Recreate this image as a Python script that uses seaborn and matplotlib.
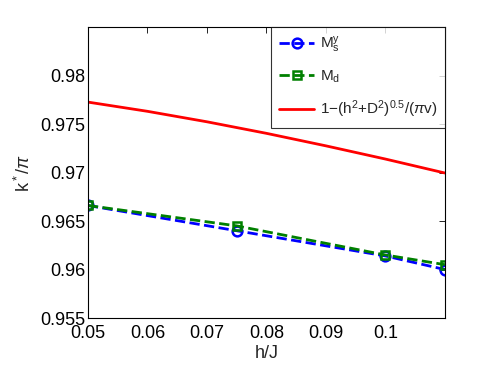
import numpy as np
import pandas as pd
import seaborn as sns
import matplotlib.pyplot as plt

# --- data ---
h_pts = [0.05, 0.075, 0.10, 0.11]
ms_y = [0.9666, 0.9640, 0.9614, 0.9600]
m_d = [0.9666, 0.9645, 0.9615, 0.9605]

h_curve = [0.05, 0.06, 0.07, 0.08, 0.09, 0.10, 0.11]
k_curve = [0.97726, 0.97631, 0.97523, 0.97404, 0.97275, 0.97139, 0.96995]

sns.set_style('white')
plt.rcParams['font.family'] = ['Liberation Sans', 'DejaVu Sans']
plt.rcParams['mathtext.fontset'] = 'custom'
plt.rcParams['mathtext.rm'] = 'Liberation Sans'
plt.rcParams['mathtext.it'] = 'Liberation Sans:italic'

fig = plt.figure(figsize=(4.91, 3.70), dpi=100)
ax = fig.add_axes([0.179, 0.1405, 0.727, 0.7865])

sns.lineplot(x=h_pts, y=ms_y, ax=ax, color='#0000ff', linestyle='--', lw=2,
             marker='o', markersize=7, markerfacecolor='none', markeredgewidth=1.8,
             markeredgecolor='#0000ff', label=r'$\mathregular{M_s^y}$')
sns.lineplot(x=h_pts, y=m_d, ax=ax, color='#008000', linestyle='--', lw=2,
             marker='s', markersize=6, markerfacecolor='none', markeredgewidth=1.8,
             markeredgecolor='#008000', label=r'$\mathregular{M_d}$')
sns.lineplot(x=h_curve, y=k_curve, ax=ax, color='#ff0000', lw=2,
             label=r'1$-$(h$^\mathregular{2}$+D$^\mathregular{2}$)$^\mathregular{0.5}$/($\pi$v)')

ax.set_xlim(0.05, 0.11)
ax.set_ylim(0.955, 0.985)
ax.set_xticks([0.05, 0.06, 0.07, 0.08, 0.09, 0.1])
ax.set_xticklabels(['0.05', '0.06', '0.07', '0.08', '0.09', '0.1'])
ax.set_yticks([0.955, 0.96, 0.965, 0.97, 0.975, 0.98])
ax.set_yticklabels(['0.955', '0.96', '0.965', '0.97', '0.975', '0.98'])
ax.tick_params(direction='in', length=4, width=0.6, labelsize=13, top=True, right=True,
               colors='black')
ax.tick_params(axis='x', pad=5)
ax.tick_params(axis='y', pad=2)
for s in ax.spines.values():
    s.set_color('black')
    s.set_linewidth(0.8)

ax.set_xlabel('h/J', fontsize=13, labelpad=2)
ax.set_ylabel(r'k$^*$/$\pi$', fontsize=13, labelpad=4)

leg = ax.legend(loc='upper right', fontsize=11, frameon=True, fancybox=False,
                borderaxespad=0, handlelength=2.3, labelspacing=0.9,
                borderpad=0.5, handletextpad=0.35)
leg.get_frame().set_edgecolor('black')
leg.get_frame().set_linewidth(0.8)

fig.savefig('out.png', dpi=100)
